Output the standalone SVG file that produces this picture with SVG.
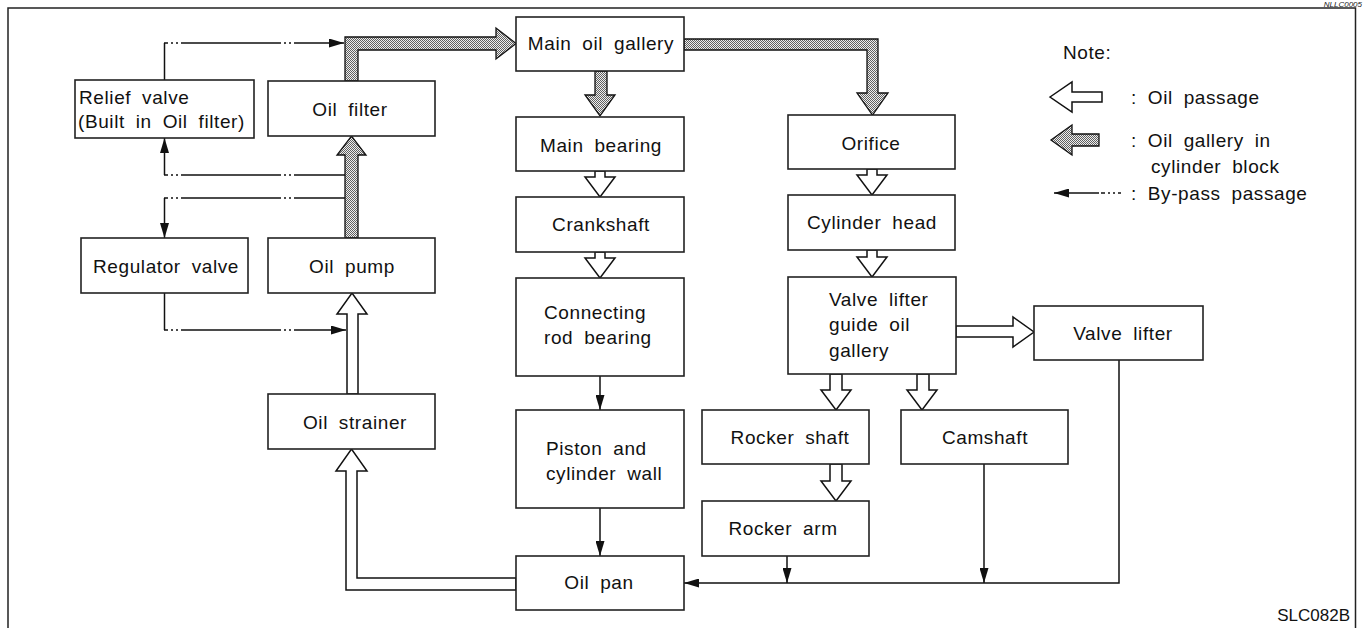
<svg xmlns="http://www.w3.org/2000/svg" width="1364" height="628" viewBox="0 0 1364 628">
<style>
.box{fill:#fff;stroke:#222;stroke-width:1.6}
.t{font-family:"Liberation Sans",Arial,sans-serif;font-size:19px;letter-spacing:0.6px;word-spacing:5px;fill:#111}
.c{text-anchor:middle}
.ln{fill:none;stroke:#111;stroke-width:1.5}
.dd{fill:none;stroke:#111;stroke-width:1.5;stroke-dasharray:100 3 2 3 2 3;stroke-dashoffset:96}
.wa{fill:#fff;stroke:#111;stroke-width:1.5;stroke-linejoin:miter}
.ga{fill:url(#dots);stroke:#111;stroke-width:1.3;stroke-linejoin:miter}
</style>
<defs>
<pattern id="dots" width="2" height="2" patternUnits="userSpaceOnUse"><rect width="2" height="2" fill="#eeeeee"/><rect width="1" height="1" fill="#606060"/><rect x="1" y="1" width="1" height="1" fill="#606060"/></pattern>
<marker id="ah" viewBox="0 0 15 9" refX="15" refY="4.5" markerWidth="15" markerHeight="9" markerUnits="userSpaceOnUse" orient="auto"><path d="M0,0 L15,4.5 L0,9 z" fill="#111"/></marker>
</defs>
<rect width="1364" height="628" fill="#fff"/>
<path d="M8,628 V8 H1355.5 V628" fill="none" stroke="#222" stroke-width="1.5"/>
<text x="1362" y="7" font-family="'Liberation Sans',Arial,sans-serif" font-size="8" font-style="italic" text-anchor="end" fill="#222">NLLC0005</text>

<g id="connectors">
<polygon class="ga" points="345,238 345,155 337,155 351.5,136 366,155 358,155 358,238"/>
<polygon class="ga" points="345,81 345,37 496,37 496,28 516,43.5 496,59 496,50 358,50 358,81"/>
<polygon class="ga" points="595,71 595,95 585,95 600,116 615,95 607,95 607,71"/>
<polygon class="ga" points="684,39 878,39 878,93 888,93 872.5,115 857,93 867,93 867,50 684,50"/>
<polygon class="wa" points="347,394 347,314 337,314 352,293 367,314 358,314 358,394"/>
<polygon class="wa" points="516,578 357,578 357,471 367,471 351.5,449 336,471 346,471 346,590 516,590"/>
<polygon class="wa" points="595,171 595,177 585,177 600,197 615,177 605,177 605,171"/>
<polygon class="wa" points="595,252 595,258 585,258 600,278 615,258 605,258 605,252"/>
<polygon class="wa" points="867,169 867,175 857,175 872,195 887,175 877,175 877,169"/>
<polygon class="wa" points="867,250 867,257 857,257 872,277 887,257 877,257 877,250"/>
<polygon class="wa" points="830,374 830,390 821,390 836,410 851,390 842,390 842,374"/>
<polygon class="wa" points="917,374 917,390 907,390 922,410 937,390 929,390 929,374"/>
<polygon class="wa" points="830,464 830,481 821,481 836,501 851,481 842,481 842,464"/>
<polygon class="wa" points="956,326 1013,326 1013,317 1034,332 1013,347 1013,337 956,337"/>
<line class="ln" x1="600" y1="376" x2="600" y2="410" marker-end="url(#ah)"/>
<line class="ln" x1="600" y1="508" x2="600" y2="556" marker-end="url(#ah)"/>
<polyline class="ln" points="1119,360 1119,583 684,583" marker-end="url(#ah)"/>
<line class="ln" x1="787" y1="556" x2="787" y2="583" marker-end="url(#ah)"/>
<line class="ln" x1="984" y1="464" x2="984" y2="583" marker-end="url(#ah)"/>
<line class="ln" x1="164.5" y1="80" x2="164.5" y2="43"/>
<line class="dd" x1="164" y1="43" x2="344" y2="43" marker-end="url(#ah)"/>
<line class="ln" x1="164.5" y1="175" x2="164.5" y2="138" marker-end="url(#ah)"/>
<line class="dd" x1="164" y1="175" x2="345" y2="175"/>
<line class="ln" x1="164.5" y1="198" x2="164.5" y2="238" marker-end="url(#ah)"/>
<line class="dd" x1="164" y1="198" x2="345" y2="198"/>
<line class="ln" x1="164.5" y1="293" x2="164.5" y2="330"/>
<line class="dd" x1="164" y1="330" x2="346" y2="330" marker-end="url(#ah)"/>
</g>

<g id="relief-valve"><rect class="box" x="75" y="80" width="179" height="58"/><text class="t" x="79" y="104">Relief valve</text><text class="t" x="78" y="128">(Built in Oil filter)</text></g>
<g id="oil-filter"><rect class="box" x="268" y="81" width="167" height="55"/><text class="t c" x="350" y="116">Oil filter</text></g>
<g id="regulator-valve"><rect class="box" x="81" y="238" width="167" height="55"/><text class="t c" x="166" y="273">Regulator valve</text></g>
<g id="oil-pump"><rect class="box" x="268" y="238" width="167" height="55"/><text class="t c" x="352" y="273">Oil pump</text></g>
<g id="oil-strainer"><rect class="box" x="268" y="394" width="167" height="55"/><text class="t c" x="355" y="429">Oil strainer</text></g>
<g id="main-oil-gallery"><rect class="box" x="516" y="17" width="168" height="54"/><text class="t c" x="601" y="50">Main oil gallery</text></g>
<g id="main-bearing"><rect class="box" x="516" y="117" width="168" height="54"/><text class="t c" x="601" y="152">Main bearing</text></g>
<g id="crankshaft"><rect class="box" x="516" y="197" width="168" height="55"/><text class="t c" x="601" y="231">Crankshaft</text></g>
<g id="connecting-rod-bearing"><rect class="box" x="516" y="278" width="168" height="98"/><text class="t" x="544" y="319">Connecting</text><text class="t" x="544" y="344">rod bearing</text></g>
<g id="piston"><rect class="box" x="516" y="410" width="168" height="98"/><text class="t" x="546" y="455">Piston and</text><text class="t" x="546" y="480">cylinder wall</text></g>
<g id="oil-pan"><rect class="box" x="516" y="556" width="168" height="54"/><text class="t c" x="599" y="589">Oil pan</text></g>
<g id="orifice"><rect class="box" x="788" y="115" width="167" height="54"/><text class="t c" x="871" y="150">Orifice</text></g>
<g id="cylinder-head"><rect class="box" x="788" y="195" width="167" height="55"/><text class="t c" x="872" y="229">Cylinder head</text></g>
<g id="valve-lifter-guide"><rect class="box" x="788" y="277" width="168" height="97"/><text class="t" x="829" y="306">Valve lifter</text><text class="t" x="829" y="331">guide oil</text><text class="t" x="829" y="357">gallery</text></g>
<g id="valve-lifter"><rect class="box" x="1034" y="306" width="169" height="54"/><text class="t c" x="1123" y="340">Valve lifter</text></g>
<g id="rocker-shaft"><rect class="box" x="702" y="410" width="167" height="54"/><text class="t c" x="790" y="444">Rocker shaft</text></g>
<g id="camshaft"><rect class="box" x="901" y="410" width="167" height="54"/><text class="t c" x="985" y="444">Camshaft</text></g>
<g id="rocker-arm"><rect class="box" x="702" y="501" width="167" height="55"/><text class="t c" x="783" y="535">Rocker arm</text></g>

<g id="legend">
<text class="t" x="1063" y="59">Note:</text>
<polygon class="wa" points="1050,97 1072,82 1072,92 1102,92 1102,102 1072,102 1072,112"/>
<text class="t" x="1131" y="104">: Oil passage</text>
<polygon class="ga" points="1051,140 1072,125 1072,134 1099,134 1099,146 1072,146 1072,155"/>
<text class="t" x="1131" y="147">: Oil gallery in</text>
<text class="t" x="1151" y="173">cylinder block</text>
<line class="ln" x1="1099" y1="193" x2="1054" y2="193" marker-end="url(#ah)"/>
<line class="ln" x1="1101" y1="193" x2="1121" y2="193" stroke-dasharray="4 3 2 3 2 3"/>
<text class="t" x="1131" y="200">: By-pass passage</text>
</g>
<text x="1350" y="621" font-family="'Liberation Sans',Arial,sans-serif" font-size="17" text-anchor="end" fill="#111">SLC082B</text>
</svg>
